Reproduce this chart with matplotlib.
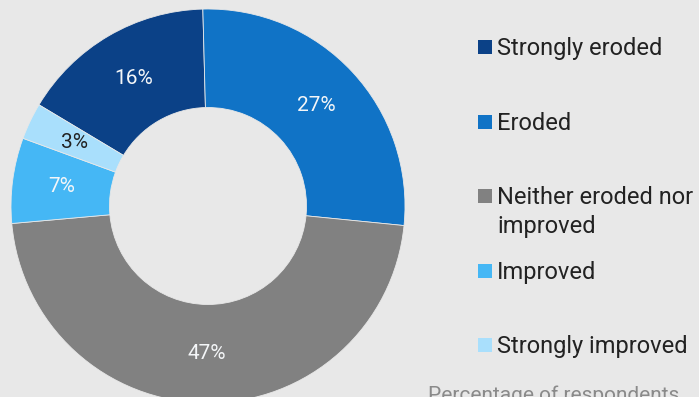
import textwrap
from matplotlib import pyplot as plt
from matplotlib.patches import Rectangle

plt.rcParams['font.family'] = ['Roboto', 'DejaVu Sans']

# data
categories = ['Strongly eroded', 'Eroded', 'Neither eroded nor improved', 'Improved', 'Strongly improved']
shares = [16, 27, 47, 7, 3]
colors = ['#0b4187', '#1073c6', '#818181', '#45b7f5', '#a9dffc']
label_colors = ['#f4f6f8', '#f4f6f8', '#f4f6f8', '#f4f6f8', '#222222']
note = 'Percentage of respondents'

bg = '#e8e8e8'
W, H = 699, 397
fig = plt.figure(figsize=(W / 100, H / 100), dpi=100, facecolor=bg)

# donut, center at (208, 206) px, radius 197 px
cx, cy, r = 208, 206, 197
ax = fig.add_axes([(cx - r) / W, (H - cy - r) / H, 2 * r / W, 2 * r / H])
ax.set_facecolor(bg)
start = 91.5 + 360 * shares[0] / sum(shares)
wedges, texts, autotexts = ax.pie(
    shares, colors=colors, startangle=start, counterclock=False,
    radius=1, autopct='%.0f%%', pctdistance=0.75,
    wedgeprops=dict(width=0.5, edgecolor=bg, linewidth=0.6),
    textprops=dict(fontsize=15))
for t, c in zip(autotexts, label_colors):
    t.set_color(c)
ax.set_xlim(-1, 1)
ax.set_ylim(-1, 1)
ax.axis('off')

# legend drawn by hand
legend_y = [46.5, 121.7, 196, 270.7, 345]
for cat, col, y in zip(categories, colors, legend_y):
    fig.add_artist(Rectangle((478 / W, (H - y - 7) / H), 14 / W, 14 / H,
                             facecolor=col, edgecolor='none',
                             transform=fig.transFigure))
    for k, line in enumerate(textwrap.wrap(cat, 18)):
        base = y + 8 + 29 * k
        fig.text(497 / W, (H - base) / H, line, fontsize=17, color='#222222',
                 va='baseline', ha='left')

# caption sits partly below the bottom edge, as in the original
fig.text(428 / W, (H - 401) / H, note, fontsize=15, color='#8a8a8a',
         va='baseline', ha='left')

fig.savefig('out.png', dpi=100, facecolor=bg)
